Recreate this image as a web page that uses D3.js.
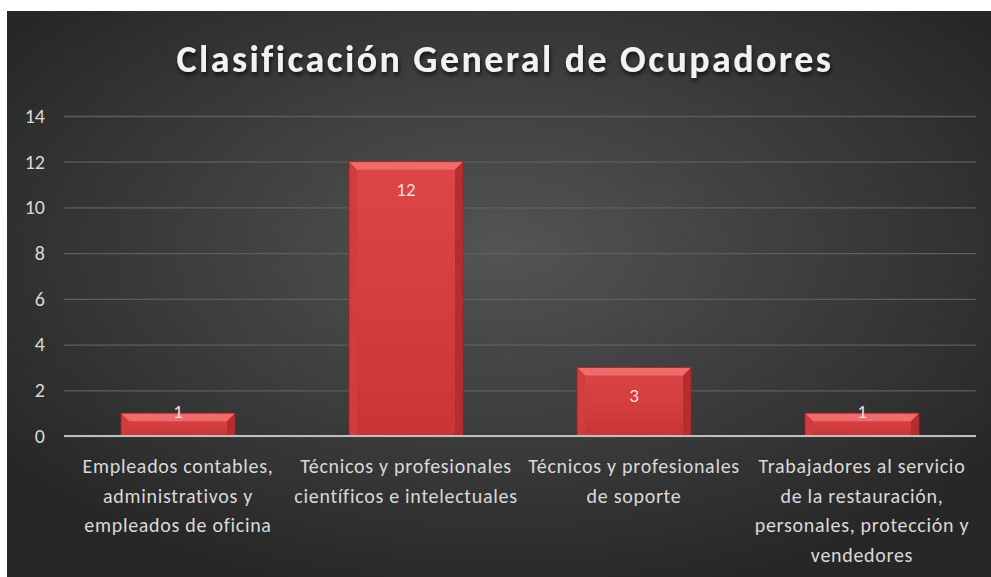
<!DOCTYPE html>
<html><head><meta charset="utf-8">
<script src="https://cdn.jsdelivr.net/npm/d3@7"></script>
<style>html,body{margin:0;padding:0;background:#fff;}svg{display:block;}</style>
</head><body>
<svg id="chart" width="991" height="577"></svg>
<script>
const categories = [
  ["Empleados contables,", "administrativos y", "empleados de oficina"],
  ["Técnicos y profesionales", "científicos e intelectuales"],
  ["Técnicos y profesionales", "de soporte"],
  ["Trabajadores al servicio", "de la restauración,", "personales, protección y", "vendedores"]
];
const values = [1, 12, 3, 1];
const yTicks = [0, 2, 4, 6, 8, 10, 12, 14];
const title = "Clasificación General de Ocupadores";

const W = 991, H = 577;
const svg = d3.select("#chart");
const defs = svg.append("defs");
const font = "Carlito, Calibri, Lato, 'Open Sans', sans-serif";

const rg = defs.append("radialGradient").attr("id","bg")
  .attr("cx","50%").attr("cy","42%").attr("r","62%");
rg.append("stop").attr("offset","0%").attr("stop-color","#545454");
rg.append("stop").attr("offset","100%").attr("stop-color","#272727");

const bg = defs.append("linearGradient").attr("id","barg").attr("x1","0").attr("x2","0").attr("y1","0").attr("y2","1");
bg.append("stop").attr("offset","0%").attr("stop-color","#dc4646");
bg.append("stop").attr("offset","100%").attr("stop-color","#c93535");

const sh = defs.append("filter").attr("id","tshadow").attr("x","-10%").attr("y","-30%").attr("width","120%").attr("height","160%");
sh.append("feDropShadow").attr("dx",1).attr("dy",3).attr("stdDeviation",2).attr("flood-color","#000").attr("flood-opacity",0.7);

svg.append("rect").attr("x",7).attr("y",11).attr("width",W-7).attr("height",H-11).attr("fill","url(#bg)");

const x0 = 64, x1 = 976, yTop = 116, yBot = 436;
const x = d3.scaleBand().domain(d3.range(values.length)).range([x0, x1]).paddingInner(0.5).paddingOuter(0.25);
const y = d3.scaleLinear().domain([0, 14]).range([yBot, yTop]);

// title
svg.append("text").attr("x", 505).attr("y", 72).attr("text-anchor","middle")
  .attr("font-family", font).attr("font-weight","bold").attr("font-size",38)
  .attr("letter-spacing", 2.4).attr("fill","#f2f2f2").attr("filter","url(#tshadow)").text(title);

// gridlines
const yAxis = d3.axisLeft(y).tickValues(yTicks).tickSize(-(x1-x0)).tickPadding(19).tickFormat(d3.format("d"));
const ga = svg.append("g").attr("transform",`translate(${x0},0)`).call(yAxis);
ga.select(".domain").remove();
ga.selectAll(".tick line").attr("stroke","#5e5e5e").attr("stroke-width",1.3);
ga.selectAll(".tick text").attr("fill","#d9d9d9").attr("font-family",font).attr("font-size",20);

// bars
const bw = x.bandwidth();
const bev = 8;
const bars = svg.append("g");
values.forEach((v,i)=>{
  const bx = x(i), by = y(v), bh = y(0)-y(v);
  const g = bars.append("g");
  g.append("rect").attr("x",bx).attr("y",by).attr("width",bw).attr("height",bh).attr("fill","url(#barg)");
  const b = Math.min(bev, bh/2);
  g.append("polygon").attr("points",`${bx},${by} ${bx+bw},${by} ${bx+bw-b},${by+b} ${bx+b},${by+b}`).attr("fill","#ee6c6c");
  g.append("polygon").attr("points",`${bx},${by} ${bx+b},${by+b} ${bx+b},${by+bh} ${bx},${by+bh}`).attr("fill","#d03d3d");
  g.append("polygon").attr("points",`${bx+bw},${by} ${bx+bw-b},${by+b} ${bx+bw-b},${by+bh} ${bx+bw},${by+bh}`).attr("fill","#b82c2c");
  g.append("rect").attr("x",bx).attr("y",by).attr("width",bw).attr("height",bh).attr("fill","none").attr("stroke","#9e2424").attr("stroke-width",0.8);
  const ly = bh > 40 ? by + 28 : by - 2;
  svg.append("text").attr("x", bx + bw/2).attr("y", ly).attr("dy","0.35em").attr("text-anchor","middle")
    .attr("font-family",font).attr("font-size",19).attr("fill","#f2dcdb").text(v);
});

// zero line
svg.append("line").attr("x1",x0).attr("x2",x1).attr("y1",y(0)).attr("y2",y(0)).attr("stroke","#bfbfbf").attr("stroke-width",2);

// category labels
categories.forEach((lines,i)=>{
  const t = svg.append("text").attr("text-anchor","middle").attr("font-family",font).attr("font-size",20)
    .attr("letter-spacing",0.7).attr("fill","#d9d9d9");
  lines.forEach((ln,j)=>{
    t.append("tspan").attr("x", x(i)+bw/2).attr("y", 473 + j*29.6).text(ln);
  });
});
</script>
</body></html>
